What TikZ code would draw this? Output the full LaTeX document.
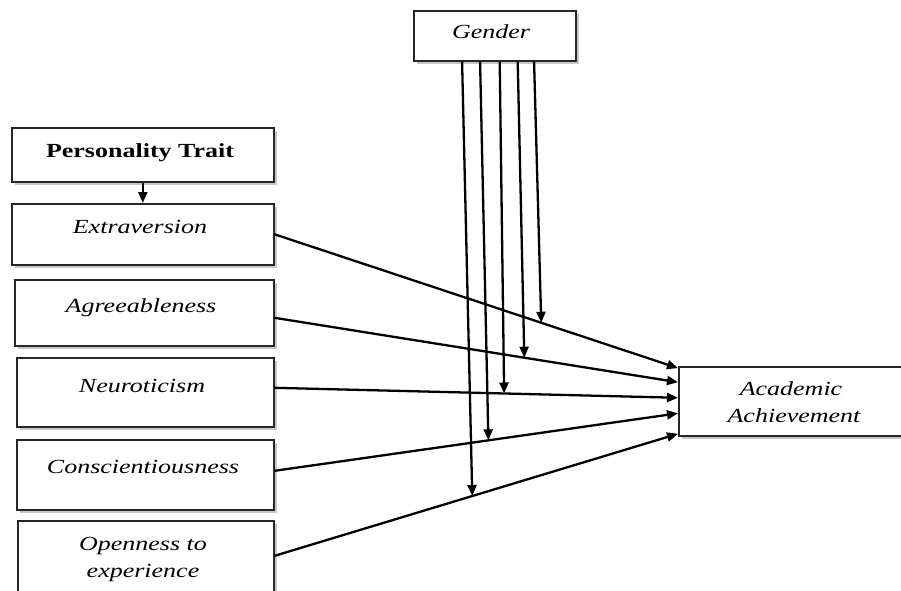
\documentclass[tikz,border=0pt]{standalone}
\usepackage{fontspec}
\setmainfont{Liberation Serif}[FakeStretch=1.3]
\usetikzlibrary{arrows.meta,shadows,calc}
\begin{document}
\begin{tikzpicture}[x=1pt,y=-1pt,
  box/.style={draw=black!85, line width=1.6pt, fill=white, rectangle, inner sep=0pt, anchor=north west,
    drop shadow={shadow xshift=3pt, shadow yshift=-3.5pt, fill=black!40, opacity=0.55}},
  lbl/.style={font=\fontsize{20}{24}\selectfont\itshape, anchor=base, inner sep=0pt, text=black},
  blbl/.style={font=\fontsize{20}{24}\selectfont\bfseries, anchor=base, inner sep=0pt},
  arr/.style={line width=2.3pt, -{Triangle[length=11pt,width=9pt]}}]
\useasboundingbox (0,0) rectangle (901,590);
\clip (0,0) rectangle (901,590);
% boxes
\node[box, minimum width=162pt, minimum height=50pt] (g) at (413,10) {};
\node[box, minimum width=262pt, minimum height=54pt] (pt) at (11,127) {};
\node[box, minimum width=262pt, minimum height=61pt] (ext) at (11,203) {};
\node[box, minimum width=259pt, minimum height=66pt] (agr) at (14,279) {};
\node[box, minimum width=257pt, minimum height=69pt] (neu) at (16,357) {};
\node[box, minimum width=257pt, minimum height=70pt] (con) at (16,439) {};
\node[box, minimum width=256pt, minimum height=75pt] (ope) at (17,520) {};
\node[box, minimum width=230pt, minimum height=69pt] (acad) at (678,366) {};
% texts
\node[lbl] (gT) at (491,38) {Gender};
\node[blbl] (ptT) at (140,157) {Personality Trait};
\node[lbl] (extT) at (140,233) {Extraversion};
\node[lbl] (agrT) at (141,312) {Agreeableness};
\node[lbl] (neuT) at (142,392) {Neuroticism};
\node[lbl] (conT) at (143,473) {Conscientiousness};
\node[lbl] (opeT1) at (143,550) {Openness to};
\node[lbl] (opeT2) at (143,577) {experience};
\node[lbl] (acT1) at (791,395) {Academic};
\node[lbl] (acT2) at (794,422) {Achievement};
% connectors
\draw[arr] (pt.south) -- (ext.north);
\draw[arr] (ext.east) -- coordinate[pos=0.661] (hE) ($(acad.north west)!0.03!(acad.south west)$);
\draw[arr] ([yshift=-5pt]agr.east) -- coordinate[pos=0.619] (hA) ($(acad.north west)!0.23!(acad.south west)$);
\draw[arr] ([yshift=4.5pt]neu.east) -- coordinate[pos=0.569] (hN) ($(acad.north west)!0.45!(acad.south west)$);
\draw[arr] ([yshift=4pt]con.east) -- coordinate[pos=0.530] (hC) ($(acad.north west)!0.67!(acad.south west)$);
\draw[arr] ([yshift=2.5pt]ope.east) -- coordinate[pos=0.490] (hO) ($(acad.north west)!0.96!(acad.south west)$);
\draw[arr] ($(g.south west)!0.30!(g.south east)$) -- (hO);
\draw[arr] ($(g.south west)!0.41!(g.south east)$) -- (hC);
\draw[arr] ($(g.south west)!0.53!(g.south east)$) -- (hN);
\draw[arr] ($(g.south west)!0.64!(g.south east)$) -- (hA);
\draw[arr] ($(g.south west)!0.74!(g.south east)$) -- (hE);
\end{tikzpicture}
\end{document}
